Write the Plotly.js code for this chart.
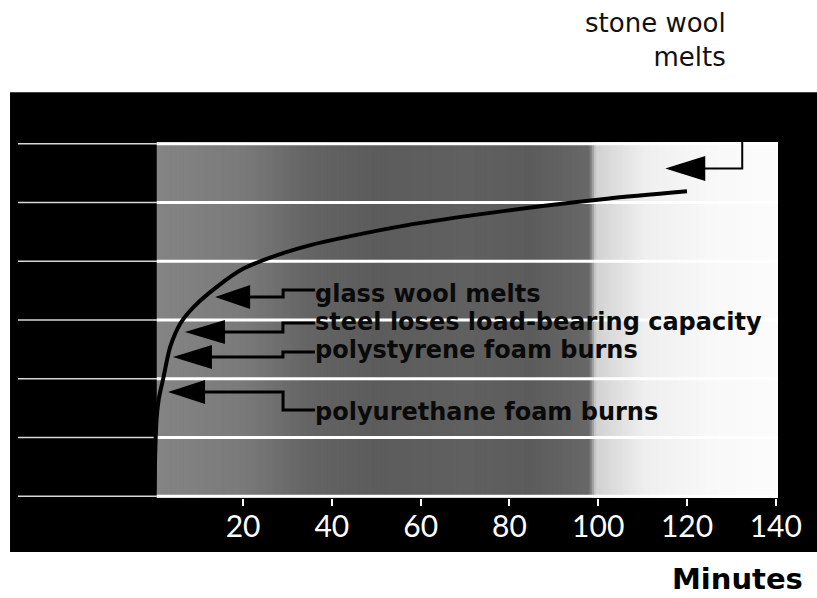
<!DOCTYPE html>
<html>
<head>
<meta charset="utf-8">
<script src="https://cdn.plot.ly/plotly-3.0.1.min.js"></script>
<style>
  html, body { margin: 0; padding: 0; background: #ffffff; }
  #chart { width: 817px; height: 598px; }
</style>
</head>
<body>
<div id="chart"></div>
<script>
// ---- data ----
const minutes      = [0, 0.5, 1, 2.1, 3.6, 5.9, 8.9, 14.1, 20.1, 27.7, 35.2, 43.4, 57.0, 71.9, 87.0, 102, 120];
const temperatureC = [20, 260, 330, 407, 509, 589, 645, 713, 775, 821, 855, 883, 923, 957, 987, 1013, 1038];

const xTickVals = [20, 40, 60, 80, 100, 120, 140];
const xTickText = ['20', '40', '60', '80', '100', '120', '140'];
const yGridVals = [0, 200, 400, 600, 800, 1000, 1200];

const eventLabels  = ['glass wool melts', 'steel loses load-bearing capacity', 'polystyrene foam burns', 'polyurethane foam burns'];
const eventMinutes = [13.7, 6.9, 4.2, 3.1];
const eventTempC   = [678, 559, 474, 355];

const topEventLabel   = 'stone wool<br>melts';
const topEventMinutes = 115.1;
const topEventTempC   = 1116;

const axisTitle = 'Minutes';

// ---- styling / layout ----
const X_RANGE = [-30.7, 140.5];
const Y_RANGE = [-6, 1206];
const PANEL_END = 0.55;   // where the black left panel stops (minutes)

// background tone profile (decoration)
const bgT = [0.55, 20, 35, 50, 70, 85, 98, 99.5, 110, 125, 140.5];
const bgV = [132, 122, 100, 92, 96, 92, 104, 210, 238, 248, 252];
function bgAt(t) {
  for (let i = 0; i < bgT.length - 1; i++) {
    if (t >= bgT[i] && t <= bgT[i + 1]) {
      const f = (t - bgT[i]) / (bgT[i + 1] - bgT[i]);
      return Math.round(bgV[i] + f * (bgV[i + 1] - bgV[i]));
    }
  }
  return bgV[bgV.length - 1];
}

const shapes = [];
// black frame
shapes.push({type: 'rect', xref: 'paper', yref: 'paper', x0: -0.0105, x1: 1.08, y0: -0.152, y1: 1.14,
  fillcolor: '#000000', line: {width: 0}, layer: 'below'});
// grey tone background
const step = 0.5;
for (let t = PANEL_END; t < X_RANGE[1]; t += step) {
  const v = bgAt(t + step / 2);
  shapes.push({type: 'rect', xref: 'x', yref: 'y', x0: t, x1: Math.min(t + step + 0.4, X_RANGE[1] + 1),
    y0: Y_RANGE[0] - 10, y1: Y_RANGE[1] + 10, fillcolor: `rgb(${v},${v},${v})`, line: {width: 0}, layer: 'below'});
}
// grid lines
yGridVals.forEach(g => {
  shapes.push({type: 'line', xref: 'x', yref: 'y', x0: X_RANGE[0], x1: PANEL_END, y0: g, y1: g,
    line: {color: '#d8d8d8', width: 1.5}, layer: 'below'});
  shapes.push({type: 'line', xref: 'x', yref: 'y', x0: PANEL_END, x1: X_RANGE[1], y0: g, y1: g,
    line: {color: '#ffffff', width: 3}, layer: 'below'});
});

// arrow heads + elbow connectors (pixel geometry relative to the arrow tip)
const headLen = [35, 40, 39, 37];
const elbowX  = [68, 98, 110, 115];
const elbowDY = [7, 9, 5, -18];
const textDX  = [98, 128, 140, 145];
const textDY  = [3, 10, 7, -20];

const annotations = [];
eventLabels.forEach((lab, i) => {
  const L = headLen[i];
  shapes.push({type: 'path', xref: 'x', yref: 'y', xsizemode: 'pixel', ysizemode: 'pixel',
    xanchor: eventMinutes[i], yanchor: eventTempC[i],
    path: `M0,0 L${L},12 L${L},-12 Z`, fillcolor: '#000000', line: {width: 0}});
  shapes.push({type: 'path', xref: 'x', yref: 'y', xsizemode: 'pixel', ysizemode: 'pixel',
    xanchor: eventMinutes[i], yanchor: eventTempC[i],
    path: `M${L - 2},0 H${elbowX[i]} V${elbowDY[i]} H${textDX[i] + 2}`,
    line: {color: '#000000', width: 3}});
  annotations.push({x: eventMinutes[i], y: eventTempC[i], xref: 'x', yref: 'y',
    xanchor: 'left', yanchor: 'middle', xshift: textDX[i], yshift: textDY[i],
    text: lab, showarrow: false,
    font: {family: 'DejaVu Sans', size: 24, color: '#0a0a0a', weight: 700}});
});

// stone wool
shapes.push({type: 'path', xref: 'x', yref: 'y', xsizemode: 'pixel', ysizemode: 'pixel',
  xanchor: topEventMinutes, yanchor: topEventTempC,
  path: 'M0,0 L40,12.5 L40,-12.5 Z', fillcolor: '#000000', line: {width: 0}});
shapes.push({type: 'path', xref: 'x', yref: 'y', xsizemode: 'pixel', ysizemode: 'pixel',
  xanchor: topEventMinutes, yanchor: topEventTempC,
  path: 'M38,0 H77 V105', line: {color: '#000000', width: 2}});
annotations.push({x: topEventMinutes, y: topEventTempC, xref: 'x', yref: 'y',
  xanchor: 'right', yanchor: 'middle', align: 'right', xshift: 63, yshift: 128,
  text: topEventLabel, showarrow: false,
  font: {family: 'DejaVu Sans', size: 26, color: '#111111'}});

// axis title (bottom right)
annotations.push({xref: 'paper', yref: 'paper', x: 1.036, y: -0.228, xanchor: 'right', yanchor: 'middle',
  text: axisTitle, showarrow: false,
  font: {family: 'DejaVu Sans', size: 29, color: '#000000', weight: 700}});

const trace = {
  x: minutes, y: temperatureC, type: 'scatter', mode: 'lines',
  line: {color: '#000000', width: 4, shape: 'spline', smoothing: 0.8},
  hoverinfo: 'skip', showlegend: false
};

const layout = {
  width: 817, height: 598,
  margin: {l: 18, r: 39, t: 142, b: 100},
  paper_bgcolor: '#ffffff', plot_bgcolor: '#000000',
  showlegend: false,
  xaxis: {range: X_RANGE, tickvals: xTickVals, ticktext: xTickText,
    showgrid: false, zeroline: false, showline: false,
    ticks: 'outside', ticklen: 7, tickwidth: 2, tickcolor: '#ffffff', ticklabelstandoff: -5,
    tickfont: {family: 'Lato', size: 30, color: '#ffffff'}, fixedrange: true},
  yaxis: {range: Y_RANGE, showgrid: false, zeroline: false, showline: false,
    showticklabels: false, ticks: '', fixedrange: true},
  shapes: shapes,
  annotations: annotations
};

Plotly.newPlot('chart', [trace], layout, {displayModeBar: false, staticPlot: true});
</script>
</body>
</html>
